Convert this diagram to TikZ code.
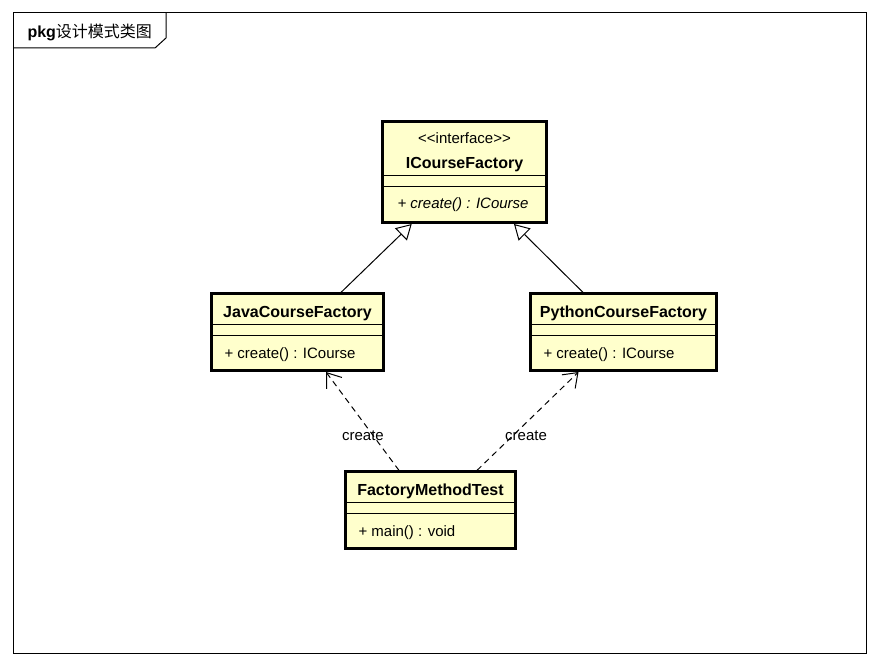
\documentclass[tikz,border=0pt]{standalone}
\usepackage{fontspec}
\setmainfont{Liberation Sans}
\newfontfamily\cjkfont{Noto Sans CJK SC}
\usepackage{tikz}
\usetikzlibrary{positioning}
\usetikzlibrary{calc}
\usetikzlibrary{math}
\usetikzlibrary{arrows.meta}

\definecolor{classfill}{RGB}{255,255,204}

\tikzset{
  classbox/.style={draw, rectangle, line width=2.6pt, fill=classfill, inner sep=0pt},
  compline/.style={line width=1pt},
  classname/.style={anchor=base, inner sep=0pt, font=\fontsize{16}{19}\selectfont\bfseries},
  classtext/.style={anchor=base, inner sep=0pt, font=\fontsize{15}{18}\selectfont},
  operation/.style={anchor=base west, inner sep=0pt, font=\fontsize{15}{18}\selectfont},
  deplabel/.style={inner sep=0pt, font=\fontsize{15}{18}\selectfont},
  realize/.style={line width=1pt, -{Triangle[open, fill=white, length=15pt, width=17pt]}},
  depend/.style={line width=1pt, dash pattern=on 6pt off 4.5pt,
    -{Straight Barb[length=13pt, width=19pt, line width=1pt]}},
}

\begin{document}
\begin{tikzpicture}[x=1pt, y=-1pt, line width=1pt]

  \tikzmath{
    \linea    = 32;   % first compartment line below top edge
    \lineb    = 43;   % second compartment line below top edge
    \namey    = 25;   % baseline of class name
    \opy      = 66.5; % baseline of operation
    \opindent = 14;   % left padding of operations
  }

  \useasboundingbox (0,0) rectangle (880,666);

  % package frame with its tab
  \draw (13,13) rectangle (866,653);
  \draw (13,48) -- (155,48) -- (166,38) -- (166,13);
  \node[anchor=base west, inner sep=0pt, font=\fontsize{16}{19}\selectfont] (pkg)
    at (27,38) {\textbf{pkg}{\cjkfont 设计模式类图}};

  % interface ICourseFactory
  \node[classbox, minimum width=164.4, minimum height=101.2] (icourse) at (464.5,172.1) {};
  \node[classtext] at ($(icourse.north)+(0,23)$) {{<}{<}interface{>}{>}};
  \node[classname] at ($(icourse.north)+(0,48)$) {ICourseFactory};
  \draw[compline] ($(icourse.north west)+(0,54.8)$) -- ($(icourse.north east)+(0,54.8)$);
  \draw[compline] ($(icourse.north west)+(0,65.8)$) -- ($(icourse.north east)+(0,65.8)$);
  \node[operation, font=\fontsize{15}{18}\selectfont\itshape]
    at ($(icourse.north west)+(16,88)$) {+ create() : ICourse};

  % class JavaCourseFactory
  \node[classbox, minimum width=172.4, minimum height=77] (java) at (297.5,332.2) {};
  \node[classname] at ($(java.north)+(0,\namey)$) {JavaCourseFactory};
  \draw[compline] ($(java.north west)+(0,\linea)$) -- ($(java.north east)+(0,\linea)$);
  \draw[compline] ($(java.north west)+(0,\lineb)$) -- ($(java.north east)+(0,\lineb)$);
  \node[operation] at ($(java.north west)+(\opindent,\opy)$) {+ create() : ICourse};

  % class PythonCourseFactory
  \node[classbox, minimum width=186.4, minimum height=77] (python) at (623.5,332.2) {};
  \node[classname] at ($(python.north)+(0,\namey)$) {PythonCourseFactory};
  \draw[compline] ($(python.north west)+(0,\linea)$) -- ($(python.north east)+(0,\linea)$);
  \draw[compline] ($(python.north west)+(0,\lineb)$) -- ($(python.north east)+(0,\lineb)$);
  \node[operation] at ($(python.north west)+(\opindent,\opy)$) {+ create() : ICourse};

  % class FactoryMethodTest
  \node[classbox, minimum width=170.4, minimum height=77] (factory) at (430.5,510.2) {};
  \node[classname] at ($(factory.north)+(0,\namey)$) {FactoryMethodTest};
  \draw[compline] ($(factory.north west)+(0,\linea)$) -- ($(factory.north east)+(0,\linea)$);
  \draw[compline] ($(factory.north west)+(0,\lineb)$) -- ($(factory.north east)+(0,\lineb)$);
  \node[operation] at ($(factory.north west)+(\opindent,\opy)$) {+ main() : void};

  % realizations of the interface
  \draw[realize] ($(java.north)+(43.5,0)$) -- ($(icourse.south)+(-52.8,0)$);
  \draw[realize] ($(python.north)+(-40.5,0)$) -- ($(icourse.south)+(49.5,0)$);

  % dependencies of the test class
  \draw[depend] ($(factory.north)+(-31.5,0)$) --
    node[deplabel, pos=0.35, xshift=-10.5pt] (createa) {create}
    ($(java.south)+(28.5,0)$);
  \draw[depend] ($(factory.north)+(46.5,0)$) --
    node[deplabel, pos=0.355, xshift=13pt] (createb) {create}
    ($(python.south)+(-45,0)$);

\end{tikzpicture}
\end{document}
